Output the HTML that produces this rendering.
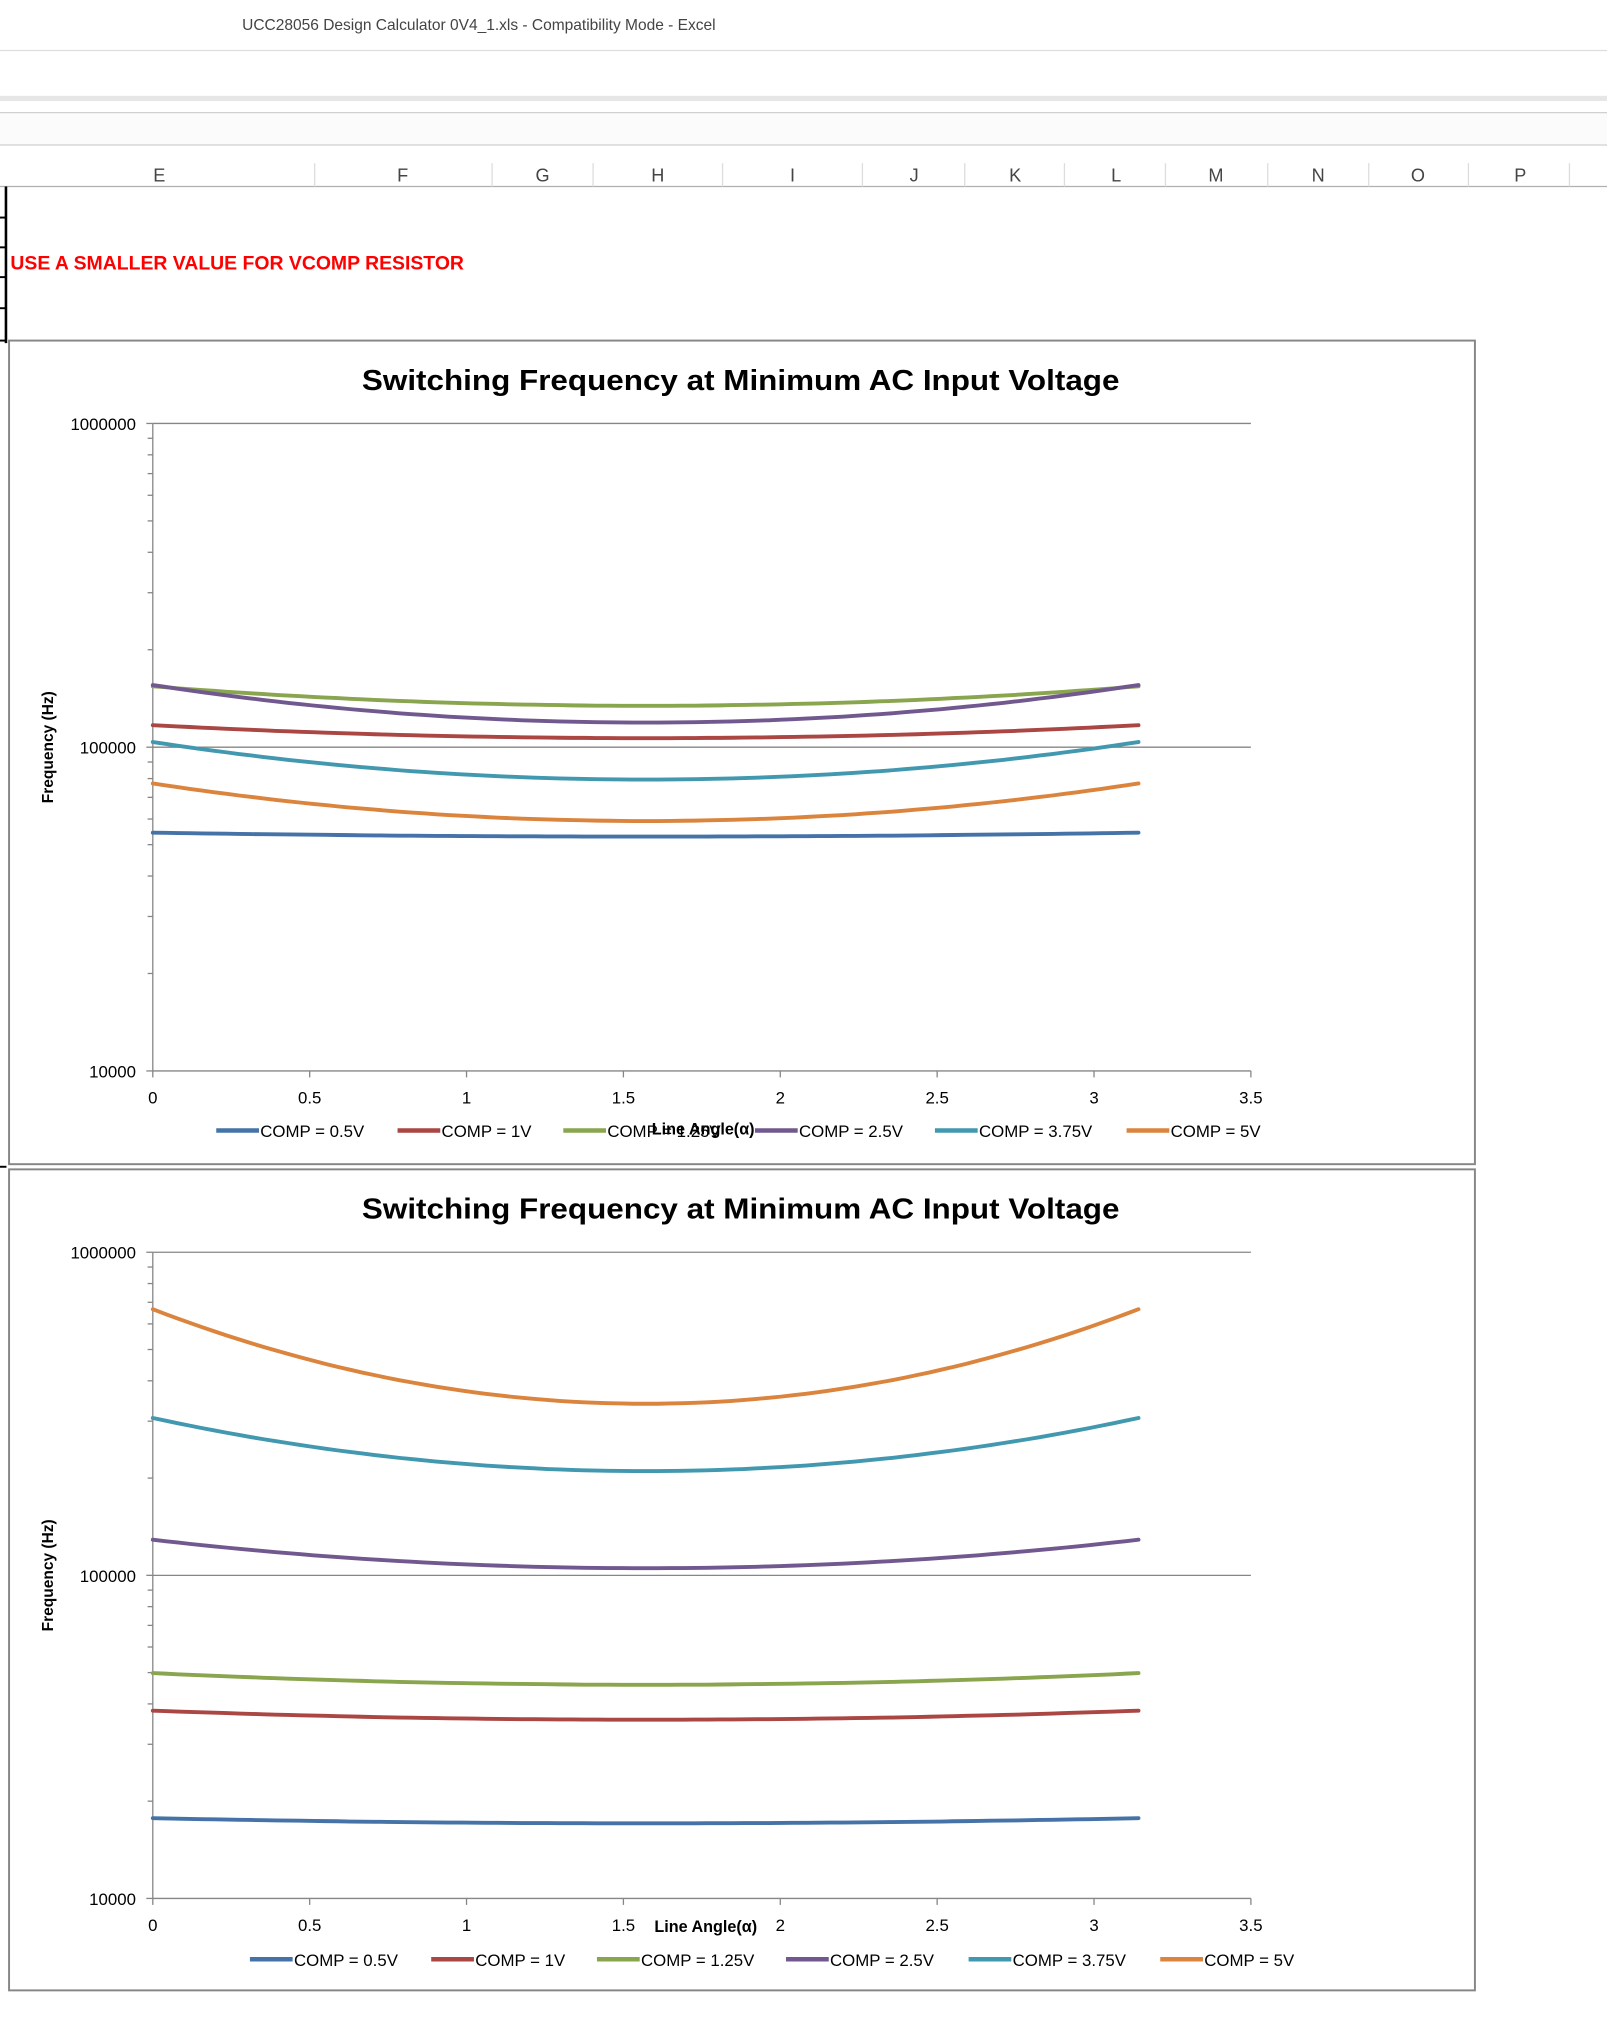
<!DOCTYPE html>
<html><head><meta charset="utf-8"><style>
html,body{margin:0;padding:0;background:#fff;}
svg{display:block;}
text{font-family:"Liberation Sans",sans-serif;}
</style></head><body>
<svg id="s" width="1607" height="2030" viewBox="0 0 1241 1567.6" preserveAspectRatio="none" xmlns="http://www.w3.org/2000/svg">
<rect width="1241" height="1568" fill="#fff"/>
<text x="187" y="23" font-size="12" fill="#444">UCC28056 Design Calculator 0V4_1.xls  -  Compatibility Mode  -  Excel</text>
<line x1="0" y1="39" x2="1241" y2="39" stroke="#ddd"/>
<rect x="0" y="74" width="1241" height="4" fill="#e6e6e6"/>
<rect x="0" y="87" width="1241" height="25" fill="#fbfbfb"/>
<line x1="0" y1="87" x2="1241" y2="87" stroke="#d0d0d0"/>
<line x1="0" y1="112" x2="1241" y2="112" stroke="#d0d0d0"/>
<line x1="0" y1="144" x2="1241" y2="144" stroke="#b0b0b0"/>
<g id="hdr" font-size="14" fill="#444" text-anchor="middle"></g>
<line x1="4.6" y1="144" x2="4.6" y2="265" stroke="#000" stroke-width="2"/>
<g stroke="#000" stroke-width="1.5"><line x1="0" y1="168" x2="5" y2="168"/><line x1="0" y1="191" x2="5" y2="191"/><line x1="0" y1="214" x2="5" y2="214"/><line x1="0" y1="238" x2="5" y2="238"/><line x1="0" y1="263" x2="5" y2="263"/><line x1="0" y1="901" x2="5" y2="901"/></g>
<text x="8" y="208" font-size="15" font-weight="bold" fill="#f00">USE A SMALLER VALUE FOR VCOMP RESISTOR</text>
<g id="c"></g>
</svg>
<script>
var NS="http://www.w3.org/2000/svg",s=document.getElementById('c');
function el(t,a,txt){var e=document.createElementNS(NS,t);for(var k in a)e.setAttribute(k,a[k]);if(txt!=null)e.textContent=txt;s.appendChild(e);return e;}
var hdr=document.getElementById('hdr');
[["E",123],["F",311],["G",419],["H",508],["I",612],["J",706],["K",784],["L",862],["M",939],["N",1018],["O",1095],["P",1174]].forEach(function(h){var t=document.createElementNS(NS,'text');t.setAttribute('x',h[1]);t.setAttribute('y',140);t.textContent=h[0];hdr.appendChild(t);});
[243,380,458,558,666,745,822,900,979,1057,1134,1212].forEach(function(x){var l=document.createElementNS(NS,'line');l.setAttribute('x1',x);l.setAttribute('x2',x);l.setAttribute('y1',126);l.setAttribute('y2',144);l.setAttribute('stroke','#ddd');hdr.appendChild(l);});
var cols=["#4573a7","#aa4643","#89a54e","#71588f","#4198af","#db843d"];
var names=["COMP = 0.5V","COMP = 1V","COMP = 1.25V","COMP = 2.5V","COMP = 3.75V","COMP = 5V"];
function chart(top,bot,y6,y4,curves,legX,legY,xlabX,xlabY,xlabAfter){
 el('rect',{x:7,y:top,width:1132,height:bot-top,fill:'#fff',stroke:'#868686','stroke-width':1.5});
 el('text',{x:572,y:top+38,'font-size':22,'font-weight':'bold','text-anchor':'middle',fill:'#000','textLength':585,'lengthAdjust':'spacingAndGlyphs'},'Switching Frequency at Minimum AC Input Voltage');
 var X0=118,X1=966,dec=(y4-y6)/2;
 el('line',{x1:X0,y1:y6,x2:X1,y2:y6,stroke:'#868686'});
 el('line',{x1:X0,y1:y6+dec,x2:X1,y2:y6+dec,stroke:'#868686'});
 el('line',{x1:X0,y1:y4,x2:X1,y2:y4,stroke:'#868686'});
 el('line',{x1:X0,y1:y6,x2:X0,y2:y4,stroke:'#868686'});
 for(var d=0;d<2;d++)for(var m=2;m<=9;m++){var yy=y6+dec*(d+1)-Math.log10(m)*dec;el('line',{x1:X0-4,y1:yy,x2:X0,y2:yy,stroke:'#868686'});}
 for(var d=0;d<3;d++){var yy=y6+dec*d;el('line',{x1:X0-5,y1:yy,x2:X0,y2:yy,stroke:'#868686'});el('text',{x:105,y:yy+5,'font-size':13,'text-anchor':'end'},['1000000','100000','10000'][d]);}
 for(var i=0;i<=7;i++){var xx=X0+(X1-X0)*i/7;el('line',{x1:xx,y1:y4,x2:xx,y2:y4+5,stroke:'#868686'});el('text',{x:xx,y:y4+25,'font-size':13,'text-anchor':'middle'},String(i/2));}
 el('text',{x:0,y:0,'font-size':12,'font-weight':'bold','text-anchor':'middle',transform:'translate(41,'+((y6+y4)/2)+') rotate(-90)'},'Frequency (Hz)');
 var xl=function(){el('text',{x:xlabX,y:xlabY,'font-size':12.5,'font-weight':'bold','text-anchor':'middle'},'Line Angle(\u03b1)');};
 if(!xlabAfter)xl();
 curves.forEach(function(c,k){var p='';for(var j=0;j<=80;j++){var a=Math.PI*j/80;var u=(a-Math.PI/2)/(Math.PI/2);var y=c[1]+(c[0]-c[1])*u*u;var x=X0+(X1-X0)*a/3.5;p+=(j?'L':'M')+x.toFixed(1)+' '+y.toFixed(1);}el('path',{d:p,fill:'none',stroke:cols[k],'stroke-width':3,'stroke-linecap':'round'});});
 legX.forEach(function(x,k){el('line',{x1:x,y1:legY,x2:x+33,y2:legY,stroke:cols[k],'stroke-width':3.5});el('text',{x:x+34,y:legY+5,'font-size':13},names[k]);});
 if(xlabAfter)xl();
}
chart(263,899,327,827,[[643,646],[560,570],[530,545],[529,558],[573,602],[605,634]],[167,307,435,583,722,870],873,543,876,true);
chart(903,1537,967,1466,[[1404,1408],[1321,1328],[1292,1301],[1189,1211],[1095,1136],[1011,1084]],[193,333,461,607,748,896],1513,545,1492,false);
</script>
</body></html>
